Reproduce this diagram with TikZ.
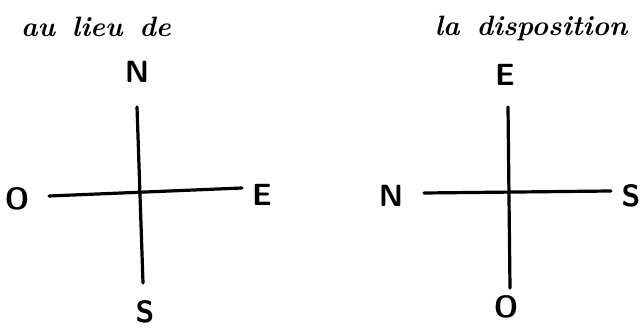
\documentclass[tikz,border=0pt]{standalone}
\usepackage{tikz}
\usetikzlibrary{positioning}
\tikzset{
  title/.style={font=\fontsize{21}{24}\selectfont\bfseries\itshape, inner sep=0pt},
  point/.style={font=\sffamily\bfseries\fontsize{23}{26}\selectfont, inner sep=0pt},
  axis/.style={line width=2.4pt, line cap=round},
}
\begin{document}
\begin{tikzpicture}[x=0.75pt,y=-0.75pt]
  \useasboundingbox (0,0) rectangle (642,327);
  % left cross
  \node[title] (tleft) at (96,27) {au\hspace{4pt} lieu\hspace{4pt} de};
  \coordinate (lN) at (137,107);
  \coordinate (lS) at (143,283);
  \coordinate (lO) at (49,196);
  \coordinate (lE) at (242,188);
  \draw[axis] (lN) -- (lS);
  \draw[axis] (lO) -- (lE);
  \node[point] (pN) at (137,72) {N};
  \node[point] (pO) at (17,199) {O};
  \node[point] (pE) at (262,195) {E};
  \node[point] (pS) at (145,312) {S};
  % right cross
  \node[title] (tright) at (531,28) {la\hspace{4pt} disposition};
  \coordinate (rE) at (508,107);
  \coordinate (rO) at (510,288);
  \coordinate (rN) at (424,193);
  \coordinate (rS) at (611,191);
  \draw[axis] (rE) -- (rO);
  \draw[axis] (rN) -- (rS);
  \node[point] (qE) at (505,75) {E};
  \node[point] (qN) at (391,196) {N};
  \node[point] (qS) at (631,196) {S};
  \node[point] (qO) at (506,307) {O};
\end{tikzpicture}
\end{document}
